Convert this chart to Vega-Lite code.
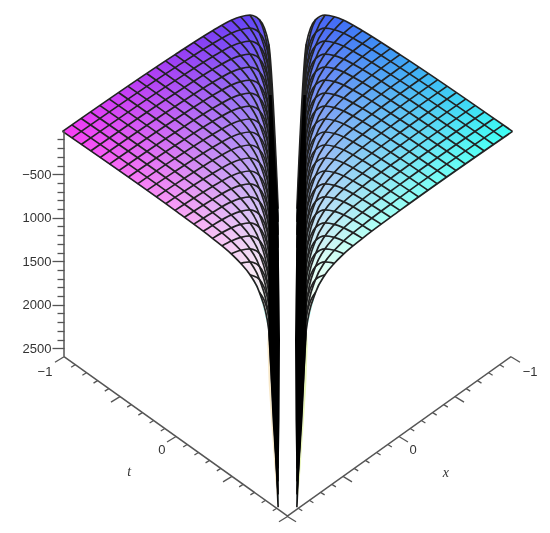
{"$schema":"https://vega.github.io/schema/vega-lite/v6.json","width":550,"height":533,"padding":0,"autosize":{"type":"none"},"background":"white","config":{"view":{"stroke":null}},
"datasets":{
"outline":[{"i":1,"u":24,"v":131.4},{"i":2,"u":12,"v":54.6},{"i":3,"u":8,"v":30.7},{"i":4,"u":6,"v":20.2},{"i":5,"u":5,"v":16.7},{"i":6,"u":4,"v":15.2},{"i":7,"u":3,"v":19.7},{"i":8,"u":2,"v":44.2},{"i":9,"u":1,"v":208.7},{"i":10,"u":1,"v":507.3},{"i":11,"u":2,"v":329.8},{"i":12,"u":3,"v":292.3},{"i":13,"u":4,"v":274.8},{"i":14,"u":5,"v":263.3},{"i":15,"u":6,"v":253.8},{"i":16,"u":8,"v":238.3},{"i":17,"u":12,"v":210.4},{"i":18,"u":24,"v":131.4}],
"wedge":[{"i":1,"u":1.69,"v":95},{"i":2,"u":1,"v":208.7},{"i":3,"u":0.85,"v":300},{"i":4,"u":0.8,"v":340},{"i":5,"u":0.85,"v":420},{"i":6,"u":1,"v":507.3},{"i":7,"u":1.6,"v":420},{"i":8,"u":2,"v":340},{"i":9,"u":2.05,"v":300},{"i":10,"u":2,"v":200},{"i":11,"u":1.95,"v":130},{"i":12,"u":1.95,"v":95}],
"fringe":[{"i":1,"u":2.05,"v":325},{"i":2,"u":2.15,"v":345},{"i":3,"u":2,"v":385},{"i":4,"u":1.75,"v":420},{"i":5,"u":1.3,"v":480},{"i":6,"u":1,"v":507},{"i":7,"u":1.6,"v":420},{"i":8,"u":2,"v":340}],
"edge":[{"u":23.84,"v":356.7},{"u":-0.05,"v":516.3}],
"ticks":[{"u":23.84,"v":356.7,"u2":24.8,"v2":362.2},{"u":22.65,"v":364.7,"u2":23.08,"v2":367.2},{"u":21.45,"v":372.7,"u2":21.88,"v2":375.2},{"u":20.26,"v":380.6,"u2":20.69,"v2":383.1},{"u":19.06,"v":388.6,"u2":19.49,"v2":391.1},{"u":17.87,"v":396.6,"u2":18.83,"v2":402.1},{"u":16.67,"v":404.6,"u2":17.1,"v2":407.1},{"u":15.48,"v":412.6,"u2":15.91,"v2":415.1},{"u":14.28,"v":420.5,"u2":14.71,"v2":423},{"u":13.09,"v":428.5,"u2":13.52,"v2":431},{"u":11.89,"v":436.5,"u2":12.85,"v2":442},{"u":10.7,"v":444.5,"u2":11.13,"v2":447},{"u":9.5,"v":452.5,"u2":9.93,"v2":455},{"u":8.31,"v":460.4,"u2":8.74,"v2":462.9},{"u":7.11,"v":468.4,"u2":7.54,"v2":470.9},{"u":5.92,"v":476.4,"u2":6.88,"v2":481.9},{"u":4.73,"v":484.4,"u2":5.16,"v2":486.9},{"u":3.53,"v":492.4,"u2":3.96,"v2":494.9},{"u":2.33,"v":500.3,"u2":2.76,"v2":502.8},{"u":1.14,"v":508.3,"u2":1.57,"v2":510.8},{"u":-0.05,"v":516.3,"u2":0.91,"v2":521.8}],
"mesh":[
{"line":"A24","u":24,"v":131.4},{"line":"A24","u":12,"v":54.6},{"line":"A24","u":8,"v":30.7},{"line":"A24","u":6,"v":20.2},{"line":"A24","u":5,"v":16.7},{"line":"A24","u":4,"v":15.2},{"line":"A24","u":3,"v":19.7},{"line":"A24","u":2,"v":44.2},{"line":"A24","u":1,"v":208.7},
{"line":"A23","u":23,"v":137.9},{"line":"A23","u":12,"v":67.6},{"line":"A23","u":8,"v":43.7},{"line":"A23","u":6,"v":33.2},{"line":"A23","u":5,"v":29.7},{"line":"A23","u":4,"v":28.2},{"line":"A23","u":3,"v":32.7},{"line":"A23","u":2,"v":57.2},{"line":"A23","u":1,"v":221.7},
{"line":"A22","u":22,"v":144.5},{"line":"A22","u":12,"v":80.6},{"line":"A22","u":8,"v":56.7},{"line":"A22","u":6,"v":46.2},{"line":"A22","u":5,"v":42.7},{"line":"A22","u":4,"v":41.2},{"line":"A22","u":3,"v":45.7},{"line":"A22","u":2,"v":70.2},{"line":"A22","u":1,"v":234.7},
{"line":"A21","u":21,"v":151},{"line":"A21","u":12,"v":93.5},{"line":"A21","u":8,"v":69.6},{"line":"A21","u":6,"v":59.1},{"line":"A21","u":5,"v":55.6},{"line":"A21","u":4,"v":54.1},{"line":"A21","u":3,"v":58.6},{"line":"A21","u":2,"v":83.1},{"line":"A21","u":1,"v":247.6},
{"line":"A20","u":20,"v":157.6},{"line":"A20","u":12,"v":106.5},{"line":"A20","u":8,"v":82.6},{"line":"A20","u":6,"v":72.1},{"line":"A20","u":5,"v":68.6},{"line":"A20","u":4,"v":67.1},{"line":"A20","u":3,"v":71.6},{"line":"A20","u":2,"v":96.1},{"line":"A20","u":1,"v":260.6},
{"line":"A19","u":19,"v":164.1},{"line":"A19","u":12,"v":119.5},{"line":"A19","u":8,"v":95.6},{"line":"A19","u":6,"v":85.1},{"line":"A19","u":5,"v":81.6},{"line":"A19","u":4,"v":80.1},{"line":"A19","u":3,"v":84.6},{"line":"A19","u":2,"v":109.1},{"line":"A19","u":1,"v":273.6},
{"line":"A18","u":18,"v":170.7},{"line":"A18","u":12,"v":132.5},{"line":"A18","u":8,"v":108.6},{"line":"A18","u":6,"v":98.1},{"line":"A18","u":5,"v":94.6},{"line":"A18","u":4,"v":93.1},{"line":"A18","u":3,"v":97.6},{"line":"A18","u":2,"v":122.1},{"line":"A18","u":1,"v":286.6},
{"line":"A17","u":17,"v":177.2},{"line":"A17","u":12,"v":145.5},{"line":"A17","u":8,"v":121.6},{"line":"A17","u":6,"v":111.1},{"line":"A17","u":5,"v":107.6},{"line":"A17","u":4,"v":106.1},{"line":"A17","u":3,"v":110.6},{"line":"A17","u":2,"v":135.1},{"line":"A17","u":1,"v":299.6},
{"line":"A16","u":16,"v":183.9},{"line":"A16","u":12,"v":158.4},{"line":"A16","u":8,"v":134.5},{"line":"A16","u":6,"v":124},{"line":"A16","u":5,"v":120.5},{"line":"A16","u":4,"v":119},{"line":"A16","u":3,"v":123.5},{"line":"A16","u":2,"v":148},{"line":"A16","u":1,"v":312.5},
{"line":"A15","u":15,"v":190.4},{"line":"A15","u":12,"v":171.4},{"line":"A15","u":8,"v":147.5},{"line":"A15","u":6,"v":137},{"line":"A15","u":5,"v":133.5},{"line":"A15","u":4,"v":132},{"line":"A15","u":3,"v":136.5},{"line":"A15","u":2,"v":161},{"line":"A15","u":1,"v":325.5},
{"line":"A14","u":14,"v":197},{"line":"A14","u":12,"v":184.4},{"line":"A14","u":8,"v":160.5},{"line":"A14","u":6,"v":150},{"line":"A14","u":5,"v":146.5},{"line":"A14","u":4,"v":145},{"line":"A14","u":3,"v":149.5},{"line":"A14","u":2,"v":174},{"line":"A14","u":1,"v":338.5},
{"line":"A13","u":13,"v":203.7},{"line":"A13","u":12,"v":197.4},{"line":"A13","u":8,"v":173.5},{"line":"A13","u":6,"v":163},{"line":"A13","u":5,"v":159.5},{"line":"A13","u":4,"v":158},{"line":"A13","u":3,"v":162.5},{"line":"A13","u":2,"v":187},{"line":"A13","u":1,"v":351.5},
{"line":"A12","u":12,"v":210.4},{"line":"A12","u":8,"v":186.5},{"line":"A12","u":6,"v":176},{"line":"A12","u":5,"v":172.5},{"line":"A12","u":4,"v":171},{"line":"A12","u":3,"v":175.5},{"line":"A12","u":2,"v":200},{"line":"A12","u":1,"v":364.5},
{"line":"A11","u":11,"v":217.2},{"line":"A11","u":8,"v":199.4},{"line":"A11","u":6,"v":188.9},{"line":"A11","u":5,"v":185.4},{"line":"A11","u":4,"v":183.9},{"line":"A11","u":3,"v":188.4},{"line":"A11","u":2,"v":212.9},{"line":"A11","u":1,"v":377.4},
{"line":"A10","u":10,"v":224.1},{"line":"A10","u":8,"v":212.4},{"line":"A10","u":6,"v":201.9},{"line":"A10","u":5,"v":198.4},{"line":"A10","u":4,"v":196.9},{"line":"A10","u":3,"v":201.4},{"line":"A10","u":2,"v":225.9},{"line":"A10","u":1,"v":390.4},
{"line":"A9","u":9,"v":231.2},{"line":"A9","u":8,"v":225.4},{"line":"A9","u":6,"v":214.9},{"line":"A9","u":5,"v":211.4},{"line":"A9","u":4,"v":209.9},{"line":"A9","u":3,"v":214.4},{"line":"A9","u":2,"v":238.9},{"line":"A9","u":1,"v":403.4},
{"line":"A8","u":8,"v":238.4},{"line":"A8","u":6,"v":227.9},{"line":"A8","u":5,"v":224.4},{"line":"A8","u":4,"v":222.9},{"line":"A8","u":3,"v":227.4},{"line":"A8","u":2,"v":251.9},{"line":"A8","u":1,"v":416.4},
{"line":"A7","u":7,"v":245.9},{"line":"A7","u":6,"v":240.9},{"line":"A7","u":5,"v":237.4},{"line":"A7","u":4,"v":235.9},{"line":"A7","u":3,"v":240.4},{"line":"A7","u":2,"v":264.9},{"line":"A7","u":1,"v":429.4},
{"line":"A6","u":6,"v":253.8},{"line":"A6","u":5,"v":250.3},{"line":"A6","u":4,"v":248.8},{"line":"A6","u":3,"v":253.3},{"line":"A6","u":2,"v":277.8},{"line":"A6","u":1,"v":442.3},
{"line":"A5","u":5,"v":263.3},{"line":"A5","u":4,"v":261.8},{"line":"A5","u":3,"v":266.3},{"line":"A5","u":2,"v":290.8},{"line":"A5","u":1,"v":455.3},
{"line":"A4","u":4,"v":274.8},{"line":"A4","u":3,"v":279.3},{"line":"A4","u":2,"v":303.8},{"line":"A4","u":1,"v":468.3},
{"line":"A3","u":3,"v":292.3},{"line":"A3","u":2,"v":316.8},{"line":"A3","u":1,"v":481.3},
{"line":"A2","u":2,"v":329.8},{"line":"A2","u":1,"v":494.3},
{"line":"B24","u":24,"v":131.4},{"line":"B24","u":12,"v":210.4},{"line":"B24","u":8,"v":238.3},{"line":"B24","u":6,"v":253.8},{"line":"B24","u":5,"v":263.3},{"line":"B24","u":4,"v":274.8},{"line":"B24","u":3,"v":292.3},{"line":"B24","u":2,"v":329.8},{"line":"B24","u":1,"v":507.3},
{"line":"B23","u":23,"v":124.9},{"line":"B23","u":12,"v":197.4},{"line":"B23","u":8,"v":225.3},{"line":"B23","u":6,"v":240.8},{"line":"B23","u":5,"v":250.3},{"line":"B23","u":4,"v":261.8},{"line":"B23","u":3,"v":279.3},{"line":"B23","u":2,"v":316.8},{"line":"B23","u":1,"v":494.3},
{"line":"B22","u":22,"v":118.5},{"line":"B22","u":12,"v":184.4},{"line":"B22","u":8,"v":212.3},{"line":"B22","u":6,"v":227.8},{"line":"B22","u":5,"v":237.3},{"line":"B22","u":4,"v":248.8},{"line":"B22","u":3,"v":266.3},{"line":"B22","u":2,"v":303.8},{"line":"B22","u":1,"v":481.3},
{"line":"B21","u":21,"v":112},{"line":"B21","u":12,"v":171.5},{"line":"B21","u":8,"v":199.4},{"line":"B21","u":6,"v":214.9},{"line":"B21","u":5,"v":224.4},{"line":"B21","u":4,"v":235.9},{"line":"B21","u":3,"v":253.4},{"line":"B21","u":2,"v":290.9},{"line":"B21","u":1,"v":468.4},
{"line":"B20","u":20,"v":105.6},{"line":"B20","u":12,"v":158.5},{"line":"B20","u":8,"v":186.4},{"line":"B20","u":6,"v":201.9},{"line":"B20","u":5,"v":211.4},{"line":"B20","u":4,"v":222.9},{"line":"B20","u":3,"v":240.4},{"line":"B20","u":2,"v":277.9},{"line":"B20","u":1,"v":455.4},
{"line":"B19","u":19,"v":99.1},{"line":"B19","u":12,"v":145.5},{"line":"B19","u":8,"v":173.4},{"line":"B19","u":6,"v":188.9},{"line":"B19","u":5,"v":198.4},{"line":"B19","u":4,"v":209.9},{"line":"B19","u":3,"v":227.4},{"line":"B19","u":2,"v":264.9},{"line":"B19","u":1,"v":442.4},
{"line":"B18","u":18,"v":92.7},{"line":"B18","u":12,"v":132.5},{"line":"B18","u":8,"v":160.4},{"line":"B18","u":6,"v":175.9},{"line":"B18","u":5,"v":185.4},{"line":"B18","u":4,"v":196.9},{"line":"B18","u":3,"v":214.4},{"line":"B18","u":2,"v":251.9},{"line":"B18","u":1,"v":429.4},
{"line":"B17","u":17,"v":86.4},{"line":"B17","u":12,"v":119.5},{"line":"B17","u":8,"v":147.4},{"line":"B17","u":6,"v":162.9},{"line":"B17","u":5,"v":172.4},{"line":"B17","u":4,"v":183.9},{"line":"B17","u":3,"v":201.4},{"line":"B17","u":2,"v":238.9},{"line":"B17","u":1,"v":416.4},
{"line":"B16","u":16,"v":79.9},{"line":"B16","u":12,"v":106.6},{"line":"B16","u":8,"v":134.5},{"line":"B16","u":6,"v":150},{"line":"B16","u":5,"v":159.5},{"line":"B16","u":4,"v":171},{"line":"B16","u":3,"v":188.5},{"line":"B16","u":2,"v":226},{"line":"B16","u":1,"v":403.5},
{"line":"B15","u":15,"v":73.6},{"line":"B15","u":12,"v":93.6},{"line":"B15","u":8,"v":121.5},{"line":"B15","u":6,"v":137},{"line":"B15","u":5,"v":146.5},{"line":"B15","u":4,"v":158},{"line":"B15","u":3,"v":175.5},{"line":"B15","u":2,"v":213},{"line":"B15","u":1,"v":390.5},
{"line":"B14","u":14,"v":67.2},{"line":"B14","u":12,"v":80.6},{"line":"B14","u":8,"v":108.5},{"line":"B14","u":6,"v":124},{"line":"B14","u":5,"v":133.5},{"line":"B14","u":4,"v":145},{"line":"B14","u":3,"v":162.5},{"line":"B14","u":2,"v":200},{"line":"B14","u":1,"v":377.5},
{"line":"B13","u":13,"v":60.9},{"line":"B13","u":12,"v":67.6},{"line":"B13","u":8,"v":95.5},{"line":"B13","u":6,"v":111},{"line":"B13","u":5,"v":120.5},{"line":"B13","u":4,"v":132},{"line":"B13","u":3,"v":149.5},{"line":"B13","u":2,"v":187},{"line":"B13","u":1,"v":364.5},
{"line":"B12","u":12,"v":54.6},{"line":"B12","u":8,"v":82.5},{"line":"B12","u":6,"v":98},{"line":"B12","u":5,"v":107.5},{"line":"B12","u":4,"v":119},{"line":"B12","u":3,"v":136.5},{"line":"B12","u":2,"v":174},{"line":"B12","u":1,"v":351.5},
{"line":"B11","u":11,"v":48.4},{"line":"B11","u":8,"v":69.6},{"line":"B11","u":6,"v":85.1},{"line":"B11","u":5,"v":94.6},{"line":"B11","u":4,"v":106.1},{"line":"B11","u":3,"v":123.6},{"line":"B11","u":2,"v":161.1},{"line":"B11","u":1,"v":338.6},
{"line":"B10","u":10,"v":42.3},{"line":"B10","u":8,"v":56.6},{"line":"B10","u":6,"v":72.1},{"line":"B10","u":5,"v":81.6},{"line":"B10","u":4,"v":93.1},{"line":"B10","u":3,"v":110.6},{"line":"B10","u":2,"v":148.1},{"line":"B10","u":1,"v":325.6},
{"line":"B9","u":9,"v":36.4},{"line":"B9","u":8,"v":43.6},{"line":"B9","u":6,"v":59.1},{"line":"B9","u":5,"v":68.6},{"line":"B9","u":4,"v":80.1},{"line":"B9","u":3,"v":97.6},{"line":"B9","u":2,"v":135.1},{"line":"B9","u":1,"v":312.6},
{"line":"B8","u":8,"v":30.6},{"line":"B8","u":6,"v":46.1},{"line":"B8","u":5,"v":55.6},{"line":"B8","u":4,"v":67.1},{"line":"B8","u":3,"v":84.6},{"line":"B8","u":2,"v":122.1},{"line":"B8","u":1,"v":299.6},
{"line":"B7","u":7,"v":25.3},{"line":"B7","u":6,"v":33.1},{"line":"B7","u":5,"v":42.6},{"line":"B7","u":4,"v":54.1},{"line":"B7","u":3,"v":71.6},{"line":"B7","u":2,"v":109.1},{"line":"B7","u":1,"v":286.6},
{"line":"B6","u":6,"v":20.2},{"line":"B6","u":5,"v":29.7},{"line":"B6","u":4,"v":41.1},{"line":"B6","u":3,"v":58.6},{"line":"B6","u":2,"v":96.1},{"line":"B6","u":1,"v":273.6},
{"line":"B5","u":5,"v":16.7},{"line":"B5","u":4,"v":28.2},{"line":"B5","u":3,"v":45.6},{"line":"B5","u":2,"v":83.1},{"line":"B5","u":1,"v":260.6},
{"line":"B4","u":4,"v":15.2},{"line":"B4","u":3,"v":32.7},{"line":"B4","u":2,"v":70.2},{"line":"B4","u":1,"v":247.7},
{"line":"B3","u":3,"v":19.7},{"line":"B3","u":2,"v":57.2},{"line":"B3","u":1,"v":234.7},
{"line":"B2","u":2,"v":44.2},{"line":"B2","u":1,"v":221.7}
],
"zaxis":[{"u":23.84,"z":0},{"u":23.84,"z":-2597}],
"numText":[{"u":25.87,"v":372,"label":"−1"},{"u":13.39,"v":450,"label":"0"}],
"tName":[{"u":16.9,"v":472,"label":"t"}],
"xName":[{"u":16.9,"v":473,"label":"x"}]
},
"resolve":{"scale":{"x":"independent","y":"independent"},"axis":{"x":"independent","y":"independent"}},
"layer":[
{"data":{"name":"outline"},"mark":{"type":"line","filled":true,"strokeWidth":0,"fill":{"gradient":"linear","x1":0,"y1":0.2353,"x2":0.1763,"y2":0.8158,"stops":[{"offset":0,"color":"rgb(60,60,245)"},{"offset":1,"color":"rgb(60,255,245)"}]}},"encoding":{"x":{"field":"u","type":"quantitative","axis":null,"scale":{"domain":[30.667,-28],"nice":false,"zero":false}},"y":{"field":"v","type":"quantitative","axis":null,"scale":{"domain":[533,0],"nice":false,"zero":false}},"order":{"field":"i"}}},
{"data":{"name":"outline"},"mark":{"type":"line","filled":true,"strokeWidth":0,"blend":"screen","fill":{"gradient":"linear","x1":1,"y1":-0.0951,"x2":0.8237,"y2":0.4854,"stops":[{"offset":0,"color":"rgb(0,0,0)"},{"offset":1,"color":"rgb(245,0,0)"}]}},"encoding":{"x":{"field":"u","type":"quantitative","axis":null,"scale":{"domain":[30.667,-28],"nice":false,"zero":false}},"y":{"field":"v","type":"quantitative","axis":null,"scale":{"domain":[533,0],"nice":false,"zero":false}},"order":{"field":"i"}}},
{"data":{"name":"outline"},"mark":{"type":"line","filled":true,"strokeWidth":0,"fill":{"gradient":"linear","x1":0,"y1":-0.0951,"x2":0.1763,"y2":0.4854,"stops":[{"offset":0,"color":"rgb(60,60,245)"},{"offset":1,"color":"rgb(60,255,245)"}]}},"encoding":{"x":{"field":"u","type":"quantitative","axis":null,"scale":{"domain":[-30.667,28],"nice":false,"zero":false}},"y":{"field":"v","type":"quantitative","axis":null,"scale":{"domain":[533,0],"nice":false,"zero":false}},"order":{"field":"i"}}},
{"data":{"name":"outline"},"mark":{"type":"line","filled":true,"strokeWidth":0,"blend":"screen","fill":{"gradient":"linear","x1":1,"y1":0.2353,"x2":0.8237,"y2":0.8158,"stops":[{"offset":0,"color":"rgb(0,0,0)"},{"offset":1,"color":"rgb(245,0,0)"}]}},"encoding":{"x":{"field":"u","type":"quantitative","axis":null,"scale":{"domain":[-30.667,28],"nice":false,"zero":false}},"y":{"field":"v","type":"quantitative","axis":null,"scale":{"domain":[533,0],"nice":false,"zero":false}},"order":{"field":"i"}}},
{"data":{"name":"fringe"},"mark":{"type":"line","filled":true,"strokeWidth":0,"fill":"#f8e8c8"},"encoding":{"x":{"field":"u","type":"quantitative","axis":null,"scale":{"domain":[30.667,-28],"nice":false,"zero":false}},"y":{"field":"v","type":"quantitative","axis":null,"scale":{"domain":[533,0],"nice":false,"zero":false}},"order":{"field":"i"}}},
{"data":{"name":"fringe"},"mark":{"type":"line","filled":true,"strokeWidth":0,"fill":"#e8f5b8"},"encoding":{"x":{"field":"u","type":"quantitative","axis":null,"scale":{"domain":[-30.667,28],"nice":false,"zero":false}},"y":{"field":"v","type":"quantitative","axis":null,"scale":{"domain":[533,0],"nice":false,"zero":false}},"order":{"field":"i"}}},
{"data":{"name":"mesh"},"mark":{"type":"line","interpolate":"monotone","stroke":"#222222","strokeWidth":1.7},"encoding":{"detail":{"field":"line"},"x":{"field":"u","type":"quantitative","axis":null,"scale":{"domain":[30.667,-28],"nice":false,"zero":false}},"y":{"field":"v","type":"quantitative","axis":null,"scale":{"domain":[533,0],"nice":false,"zero":false}}}},
{"data":{"name":"mesh"},"mark":{"type":"line","interpolate":"monotone","stroke":"#222222","strokeWidth":1.7},"encoding":{"detail":{"field":"line"},"x":{"field":"u","type":"quantitative","axis":null,"scale":{"domain":[-30.667,28],"nice":false,"zero":false}},"y":{"field":"v","type":"quantitative","axis":null,"scale":{"domain":[533,0],"nice":false,"zero":false}}}},
{"data":{"name":"wedge"},"mark":{"type":"line","filled":true,"strokeWidth":0,"fill":"#000000"},"encoding":{"x":{"field":"u","type":"quantitative","axis":null,"scale":{"domain":[30.667,-28],"nice":false,"zero":false}},"y":{"field":"v","type":"quantitative","axis":null,"scale":{"domain":[533,0],"nice":false,"zero":false}},"order":{"field":"i"}}},
{"data":{"name":"wedge"},"mark":{"type":"line","filled":true,"strokeWidth":0,"fill":"#000000"},"encoding":{"x":{"field":"u","type":"quantitative","axis":null,"scale":{"domain":[-30.667,28],"nice":false,"zero":false}},"y":{"field":"v","type":"quantitative","axis":null,"scale":{"domain":[533,0],"nice":false,"zero":false}},"order":{"field":"i"}}},
{"data":{"name":"edge"},"mark":{"type":"line","stroke":"#555555","strokeWidth":1.5},"encoding":{"x":{"field":"u","type":"quantitative","axis":null,"scale":{"domain":[30.667,-28],"nice":false,"zero":false}},"y":{"field":"v","type":"quantitative","axis":null,"scale":{"domain":[533,0],"nice":false,"zero":false}}}},
{"data":{"name":"edge"},"mark":{"type":"line","stroke":"#555555","strokeWidth":1.5},"encoding":{"x":{"field":"u","type":"quantitative","axis":null,"scale":{"domain":[-30.667,28],"nice":false,"zero":false}},"y":{"field":"v","type":"quantitative","axis":null,"scale":{"domain":[533,0],"nice":false,"zero":false}}}},
{"data":{"name":"ticks"},"mark":{"type":"rule","stroke":"#555555","strokeWidth":1.3},"encoding":{"x":{"field":"u","type":"quantitative","axis":null,"scale":{"domain":[30.667,-28],"nice":false,"zero":false}},"x2":{"field":"u2"},"y":{"field":"v","type":"quantitative","axis":null,"scale":{"domain":[533,0],"nice":false,"zero":false}},"y2":{"field":"v2"}}},
{"data":{"name":"ticks"},"mark":{"type":"rule","stroke":"#555555","strokeWidth":1.3},"encoding":{"x":{"field":"u","type":"quantitative","axis":null,"scale":{"domain":[-30.667,28],"nice":false,"zero":false}},"x2":{"field":"u2"},"y":{"field":"v","type":"quantitative","axis":null,"scale":{"domain":[533,0],"nice":false,"zero":false}},"y2":{"field":"v2"}}},
{"data":{"name":"zaxis"},"mark":{"type":"line","stroke":"#555555","strokeWidth":1.5},"encoding":{"x":{"field":"u","type":"quantitative","axis":null,"scale":{"domain":[30.667,-28],"nice":false,"zero":false}},"y":{"field":"z","type":"quantitative","scale":{"domain":[-4623,1503],"nice":false,"zero":false},"axis":{"title":null,"grid":false,"domain":false,"offset":-64,"values":[-2500,-2400,-2300,-2200,-2100,-2000,-1900,-1800,-1700,-1600,-1500,-1400,-1300,-1200,-1100,-1000,-900,-800,-700,-600,-500,-400,-300,-200,-100],"tickColor":"#555555","tickWidth":1.3,"tickSize":{"condition":{"test":"datum.value % 500 === 0","value":12},"value":7},"labelExpr":"datum.value === -500 ? '−500' : (datum.value % 500 === 0 ? format(-datum.value, 'd') : '')","labelFont":"Liberation Sans","labelFontSize":13,"labelColor":"#333333","labelPadding":1,"labelOverlap":false,"labelBound":false,"labelFlush":false}}}},
{"data":{"name":"numText"},"mark":{"type":"text","font":"Liberation Sans","fontSize":13,"color":"#333333","align":"center","baseline":"middle"},"encoding":{"x":{"field":"u","type":"quantitative","axis":null,"scale":{"domain":[30.667,-28],"nice":false,"zero":false}},"y":{"field":"v","type":"quantitative","axis":null,"scale":{"domain":[533,0],"nice":false,"zero":false}},"text":{"field":"label"}}},
{"data":{"name":"numText"},"mark":{"type":"text","font":"Liberation Sans","fontSize":13,"color":"#333333","align":"center","baseline":"middle"},"encoding":{"x":{"field":"u","type":"quantitative","axis":null,"scale":{"domain":[-30.667,28],"nice":false,"zero":false}},"y":{"field":"v","type":"quantitative","axis":null,"scale":{"domain":[533,0],"nice":false,"zero":false}},"text":{"field":"label"}}},
{"data":{"name":"tName"},"mark":{"type":"text","font":"Liberation Serif","fontStyle":"italic","fontSize":14,"color":"#333333","align":"center","baseline":"middle"},"encoding":{"x":{"field":"u","type":"quantitative","axis":null,"scale":{"domain":[30.667,-28],"nice":false,"zero":false}},"y":{"field":"v","type":"quantitative","axis":null,"scale":{"domain":[533,0],"nice":false,"zero":false}},"text":{"field":"label"}}},
{"data":{"name":"xName"},"mark":{"type":"text","font":"Liberation Serif","fontStyle":"italic","fontSize":14,"color":"#333333","align":"center","baseline":"middle"},"encoding":{"x":{"field":"u","type":"quantitative","axis":null,"scale":{"domain":[-30.667,28],"nice":false,"zero":false}},"y":{"field":"v","type":"quantitative","axis":null,"scale":{"domain":[533,0],"nice":false,"zero":false}},"text":{"field":"label"}}}
]}
